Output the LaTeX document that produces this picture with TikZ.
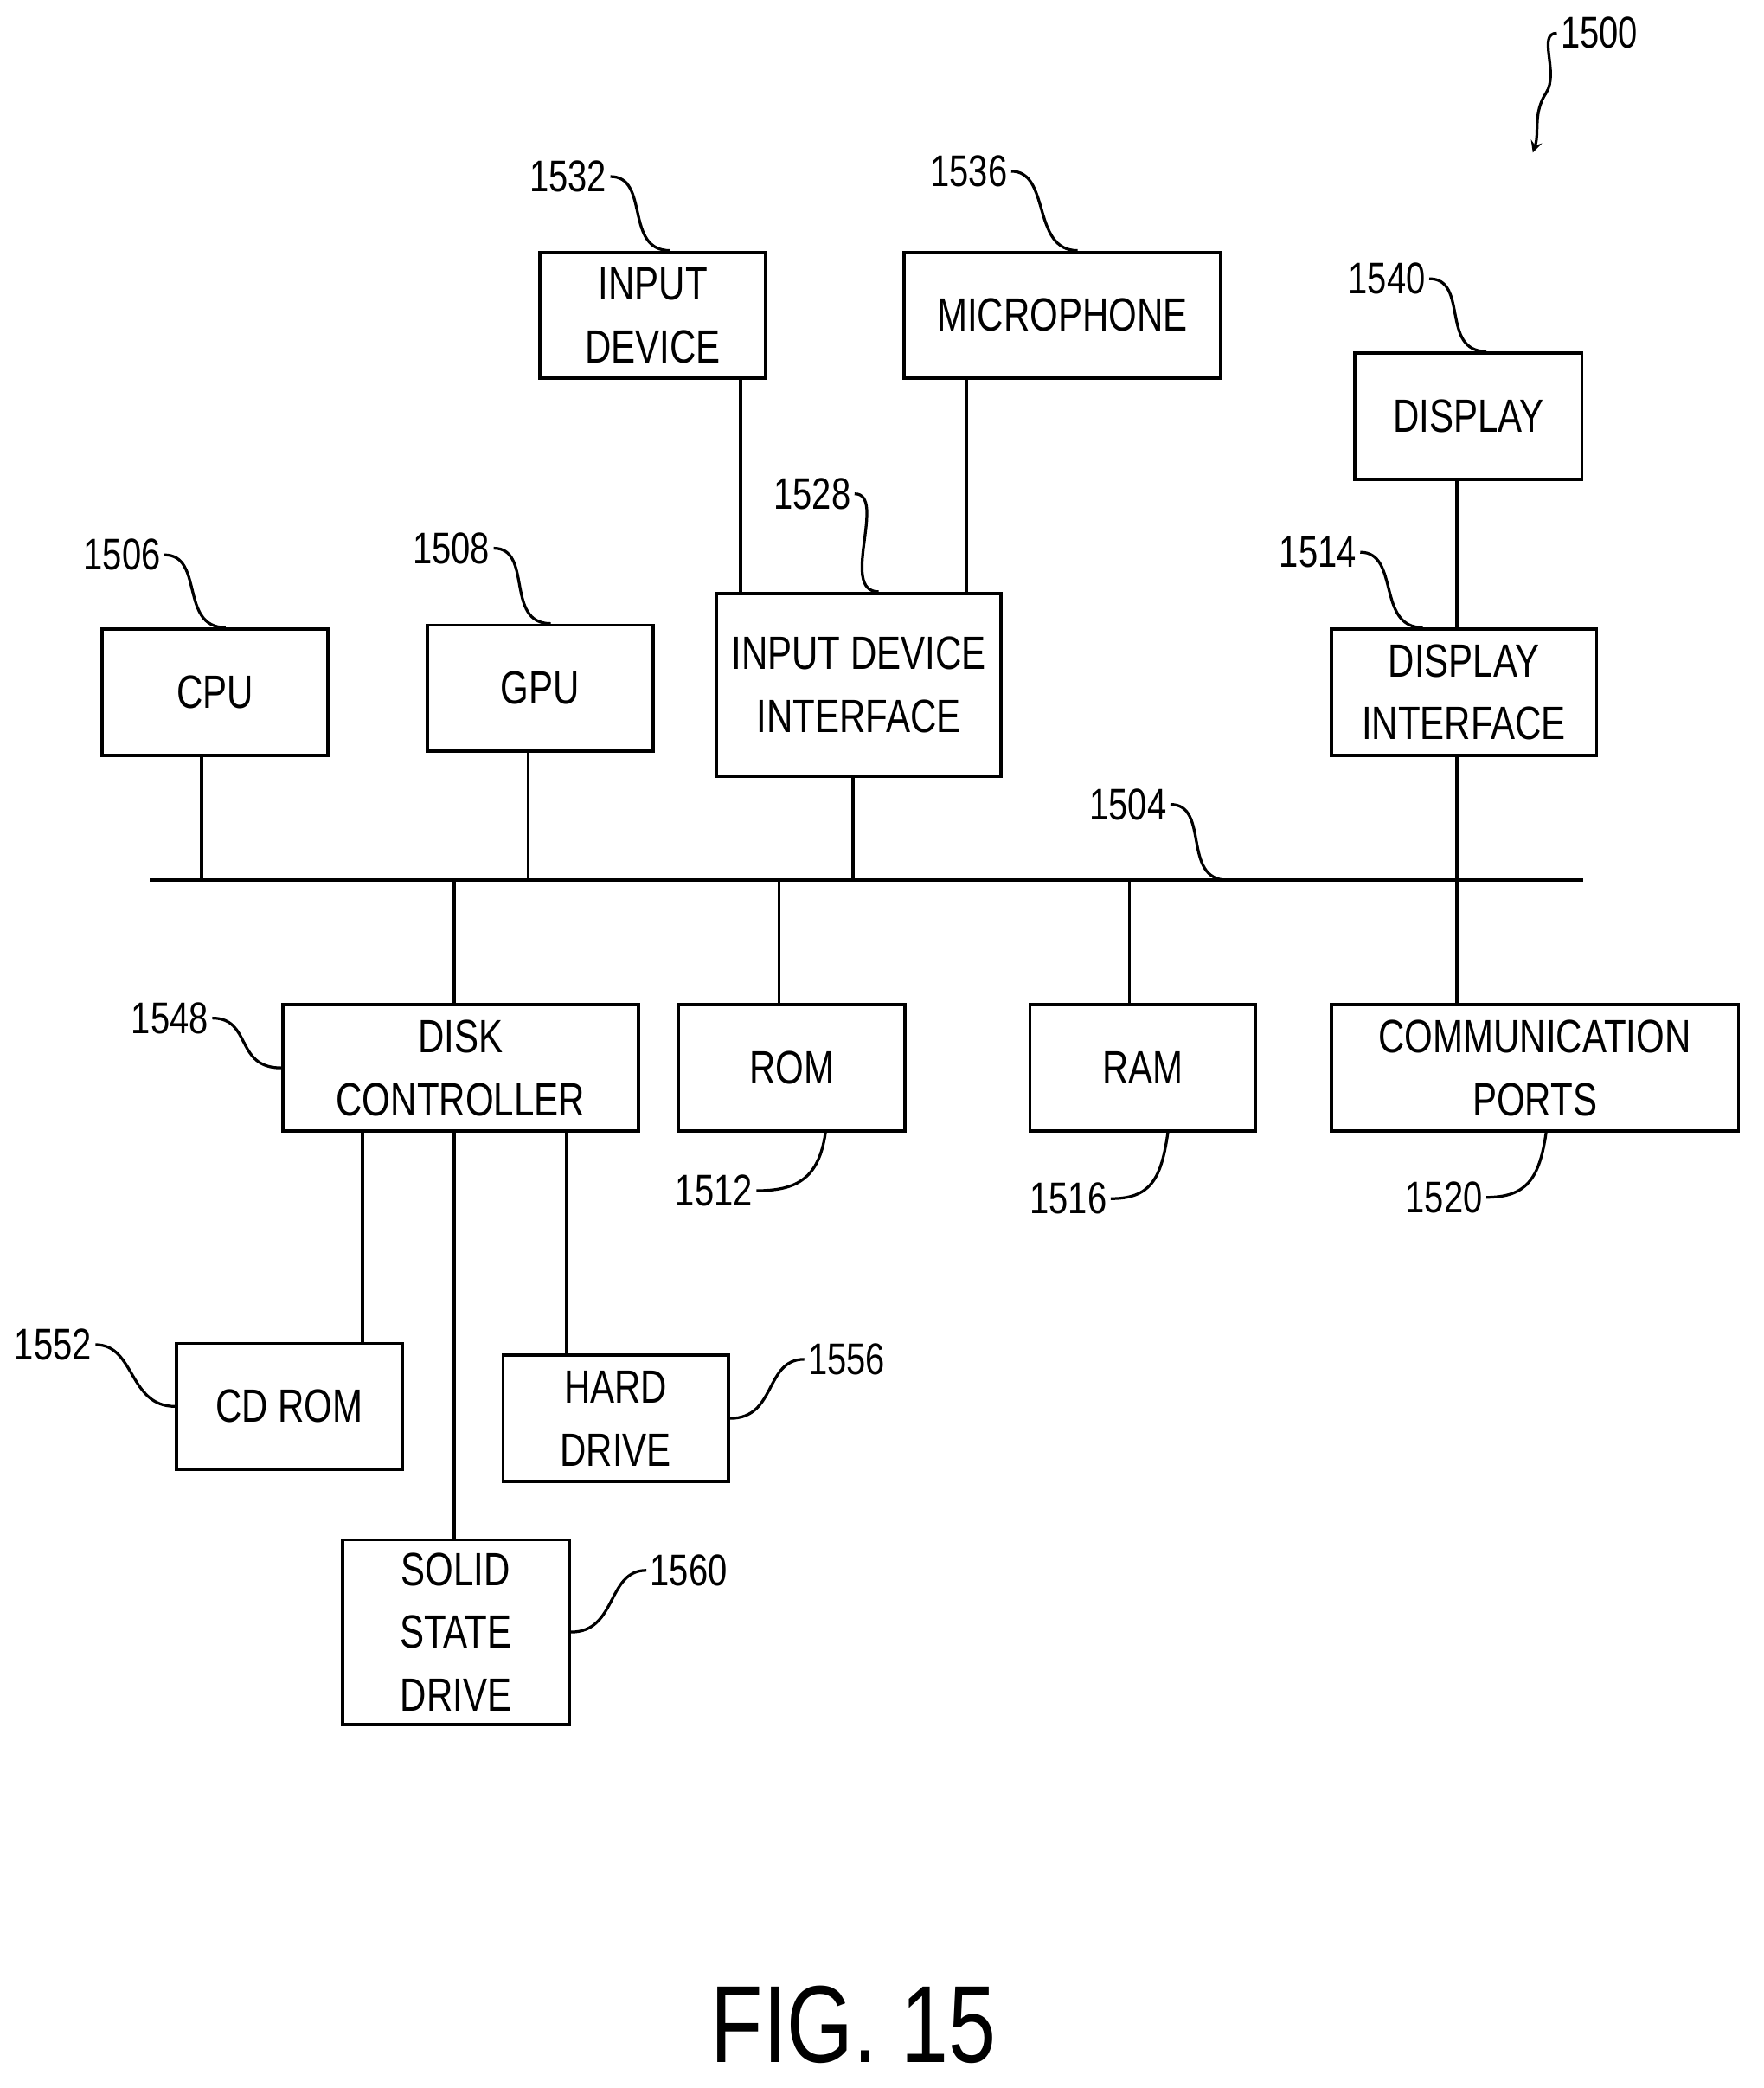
\documentclass[tikz,border=0pt]{standalone}
\usepackage{fontspec}
\setmainfont{Liberation Sans}[FakeStretch=0.78]
\usepackage{tikz}
\usetikzlibrary{positioning, arrows}

\begin{document}
\begin{tikzpicture}[x=0.02cm, y=-0.02cm, line width=1.4pt,
    box/.style={draw, inner sep=0pt, align=center, minimum width=3.4cm, minimum height=1.9cm, font=\fontsize{20}{27}\selectfont},
    ref/.style={inner sep=1pt, font=\fontsize{19}{22}\selectfont},
    lead/.style={line width=1.2pt}]

    \useasboundingbox (0,0) rectangle (1329,1573);

    % boxes
    \node[box] (cpu) at (162,521.5) {CPU};
    \node[box] (gpu) at (407,518.5) {GPU};
    \node[box, minimum width=4.28cm, minimum height=2.76cm] (idi) at (647,516) {INPUT DEVICE\\INTERFACE};
    \node[box] (indev) at (492,237.5) {INPUT\\DEVICE};
    \node[box, minimum width=4.78cm] (mic) at (800.5,237.5) {MICROPHONE};
    \node[box, minimum width=3.42cm] (disp) at (1106.5,313.5) {DISPLAY};
    \node[box, minimum width=4cm] (dispif) at (1103,521.5) {DISPLAY\\INTERFACE};
    \node[box, minimum width=5.36cm] (dc) at (347,804.5) {DISK\\CONTROLLER};
    \node[box, minimum width=3.42cm] (rom) at (596.5,804.5) {ROM};
    \node[box] (ram) at (861,804.5) {RAM};
    \node[box, minimum width=6.14cm] (comm) at (1156.5,804.5) {COMMUNICATION\\PORTS};
    \node[box] (cdrom) at (218,1059.5) {CD ROM};
    \node[box] (hd) at (464,1068.5) {HARD\\DRIVE};
    \node[box, minimum width=3.42cm, minimum height=2.78cm] (ssd) at (343.5,1229.5) {SOLID\\STATE\\DRIVE};

    % bus
    \coordinate (busL) at (113,663);
    \coordinate (busR) at (1193,663);
    \draw (busL) -- (busR);

    % links
    \draw ([xshift=-0.2cm]cpu.south) -- ([xshift=-0.2cm]cpu.south |- busL);
    \draw ([xshift=-0.18cm]gpu.south) -- ([xshift=-0.18cm]gpu.south |- busL);
    \draw ([xshift=-0.08cm]idi.south) -- ([xshift=-0.08cm]idi.south |- busL);
    \draw ([xshift=1.32cm]indev.south) -- ([xshift=1.32cm]indev.south |- idi.north);
    \draw ([xshift=-1.45cm]mic.south) -- ([xshift=-1.45cm]mic.south |- idi.north);
    \draw ([xshift=-0.17cm]disp.south) -- ([xshift=-0.17cm]disp.south |- dispif.north);
    \draw ([xshift=-0.1cm]dispif.south) -- ([xshift=-0.1cm]dispif.south |- comm.north);
    \draw ([xshift=-0.1cm]dc.north) -- ([xshift=-0.1cm]dc.north |- busL);
    \draw ([xshift=-0.19cm]rom.north) -- ([xshift=-0.19cm]rom.north |- busL);
    \draw ([xshift=-0.2cm]ram.north) -- ([xshift=-0.2cm]ram.north |- busL);
    \draw ([xshift=-1.48cm]dc.south) -- ([xshift=-1.48cm]dc.south |- cdrom.north);
    \draw ([xshift=-0.1cm]dc.south) -- ([xshift=-0.1cm]dc.south |- ssd.north);
    \draw ([xshift=1.6cm]dc.south) -- ([xshift=1.6cm]dc.south |- hd.north);

    % reference numerals
    \node[ref] (l1506) at (92,418) {1506};
    \node[ref] (l1508) at (340,413) {1508};
    \node[ref] (l1528) at (612,372) {1528};
    \node[ref] (l1532) at (428,133) {1532};
    \node[ref] (l1536) at (730,129) {1536};
    \node[ref] (l1540) at (1045,210) {1540};
    \node[ref] (l1514) at (993,416) {1514};
    \node[ref] (l1504) at (850,606) {1504};
    \node[ref] (l1548) at (128,767) {1548};
    \node[ref] (l1512) at (538,897) {1512};
    \node[ref] (l1516) at (805,903) {1516};
    \node[ref] (l1520) at (1088,902) {1520};
    \node[ref] (l1552) at (40,1013) {1552};
    \node[ref] (l1556) at (638,1024) {1556};
    \node[ref] (l1560) at (519,1183) {1560};
    \node[ref] (l1500) at (1205,25) {1500};
    \coordinate (b1504) at (925,663);
    \coordinate (a1500) at (1155,115);

    \draw[lead] (l1506.east) .. controls +(30,0) and +(-35,0) .. ([xshift=0.16cm]cpu.north);
    \draw[lead] (l1508.east) .. controls +(30,0) and +(-35,0) .. ([xshift=0.16cm]gpu.north);
    \draw[lead] (l1528.east) .. controls +(25,0) and +(-30,0) .. ([xshift=0.3cm]idi.north);
    \draw[lead] (l1532.east) .. controls +(30,0) and +(-35,0) .. ([xshift=0.26cm]indev.north);
    \draw[lead] (l1536.east) .. controls +(30,0) and +(-35,0) .. ([xshift=0.23cm]mic.north);
    \draw[lead] (l1540.east) .. controls +(30,0) and +(-35,0) .. ([xshift=0.27cm]disp.north);
    \draw[lead] (l1514.east) .. controls +(30,0) and +(-35,0) .. ([xshift=-0.62cm]dispif.north);
    \draw[lead] (l1504.east) .. controls +(30,0) and +(-35,0) .. (b1504);
    \draw[lead] (l1548.east) .. controls +(30,0) and +(-35,0) .. (dc.west);
    \draw[lead] (l1512.east) .. controls +(30,0) and +(-5,35) .. ([xshift=0.51cm]rom.south);
    \draw[lead] (l1516.east) .. controls +(30,0) and +(-5,35) .. ([xshift=0.38cm]ram.south);
    \draw[lead] (l1520.east) .. controls +(30,0) and +(-5,35) .. ([xshift=0.17cm]comm.south);
    \draw[lead] (l1552.east) .. controls +(30,0) and +(-35,0) .. (cdrom.west);
    \draw[lead] (hd.east) .. controls +(35,0) and +(-30,0) .. (l1556.west);
    \draw[lead] (ssd.east) .. controls +(35,0) and +(-30,0) .. (l1560.west);
    \draw[lead, -stealth] (l1500.west) .. controls +(-15,0) and +(10,-15) .. (1165,70)
        .. controls +(-10,15) and +(5,-15) .. (a1500);

    \node[font=\fontsize{47}{50}\selectfont] (fig) at (643,1525) {FIG. 15};

\end{tikzpicture}
\end{document}
